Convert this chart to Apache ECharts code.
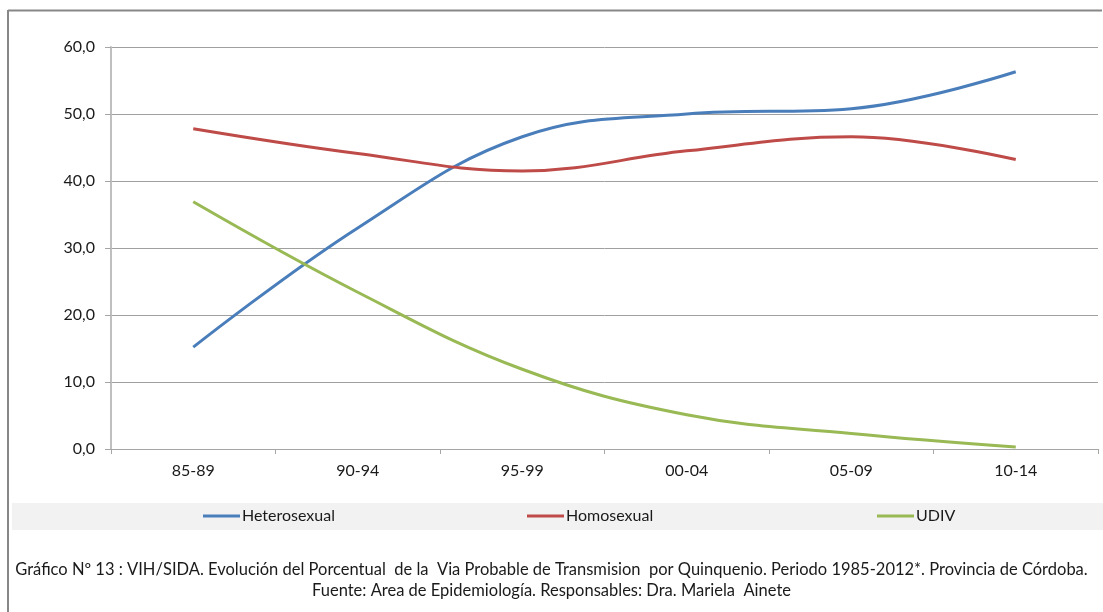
<!DOCTYPE html>
<html>
<head>
<meta charset="utf-8">
<script src="https://cdn.jsdelivr.net/npm/echarts@6/dist/echarts.min.js"></script>
<style>
  html, body { margin: 0; padding: 0; background: #ffffff; }
  #chart { width: 1103px; height: 612px; }
</style>
</head>
<body>
<div id="chart"></div>
<script>
// Quinquennial periods
const periods = ['85-89', '90-94', '95-99', '00-04', '05-09', '10-14'];

// Percentage of cases by probable transmission route
const heterosexual = [15.2, 33.0, 46.6, 50.0, 50.8, 56.3];
const homosexual   = [47.8, 44.1, 41.5, 44.5, 46.6, 43.2];
const udiv         = [36.9, 23.4, 11.9, 5.1, 2.3, 0.3];

const seriesNames = ['Heterosexual', 'Homosexual', 'UDIV'];
const seriesColors = ['#4a7ebb', '#be4b48', '#98b954'];

const captionLine1 = 'Gráfico Nº 13 : VIH/SIDA. Evolución del Porcentual  de la  Via Probable de Transmision  por Quinquenio. Periodo 1985-2012*. Provincia de Córdoba.';
const captionLine2 = 'Fuente: Area de Epidemiología. Responsables: Dra. Mariela  Ainete';

const font = 'Lato, "Open Sans", sans-serif';
const textColor = '#1a1a1a';
const chart = echarts.init(document.getElementById('chart'), null, { renderer: 'canvas' });

const values = [heterosexual, homosexual, udiv];
const legendLeft = [203, 527, 877];

chart.setOption({
  animation: false,
  backgroundColor: '#ffffff',
  textStyle: { fontFamily: font },
  title: [
    { text: captionLine1, left: 'center', top: 556,
      textStyle: { fontFamily: font, fontSize: 16.5, fontWeight: 'normal', color: textColor } },
    { text: captionLine2, left: 'center', top: 577,
      textStyle: { fontFamily: font, fontSize: 16.5, fontWeight: 'normal', color: textColor } }
  ],
  graphic: [
    // legend band
    { type: 'rect', z: -1, shape: { x: 12, y: 503, width: 1091, height: 27 }, style: { fill: '#f2f2f2' } },
    // frame
    { type: 'line', shape: { x1: 8, y1: 10.5, x2: 1102, y2: 10.5 }, style: { stroke: '#878787', lineWidth: 2 } },
    { type: 'line', shape: { x1: 8, y1: 10, x2: 8, y2: 612 }, style: { stroke: '#878787', lineWidth: 2 } }
  ],
  legend: seriesNames.map((n, i) => ({
    data: [n],
    left: legendLeft[i],
    top: 508,
    icon: 'rect',
    itemWidth: 37,
    itemHeight: 3,
    itemGap: 2,
    padding: 0,
    textStyle: { fontFamily: font, fontSize: 16, color: textColor, padding: [0, 0, 0, -3] }
  })),
  grid: { left: 111, right: 5, top: 47, bottom: 163, containLabel: false },
  xAxis: {
    type: 'category',
    data: periods,
    boundaryGap: true,
    axisLine: { lineStyle: { color: '#a6a6a6', width: 1 } },
    axisTick: { show: true, length: 5, lineStyle: { color: '#a6a6a6' } },
    axisLabel: { fontFamily: font, fontSize: 16, color: textColor, margin: 14 },
    splitLine: { show: false }
  },
  yAxis: {
    type: 'value',
    min: 0, max: 60, interval: 10,
    axisLine: { show: true, lineStyle: { color: '#bfbfbf', width: 2 } },
    axisTick: { show: true, length: 6, lineStyle: { color: '#a6a6a6' } },
    axisLabel: { fontFamily: font, fontSize: 16, color: textColor, margin: 16,
      formatter: v => v.toFixed(1).replace('.', ',') },
    splitLine: { show: true, lineStyle: { color: '#a0a0a0', width: 1 } }
  },
  series: seriesNames.map((n, i) => ({
    name: n,
    type: 'line',
    data: values[i],
    smooth: 0.4,
    showSymbol: false,
    symbol: 'none',
    color: seriesColors[i],
    lineStyle: { width: 3, color: seriesColors[i] }
  }))
});
</script>
</body>
</html>
